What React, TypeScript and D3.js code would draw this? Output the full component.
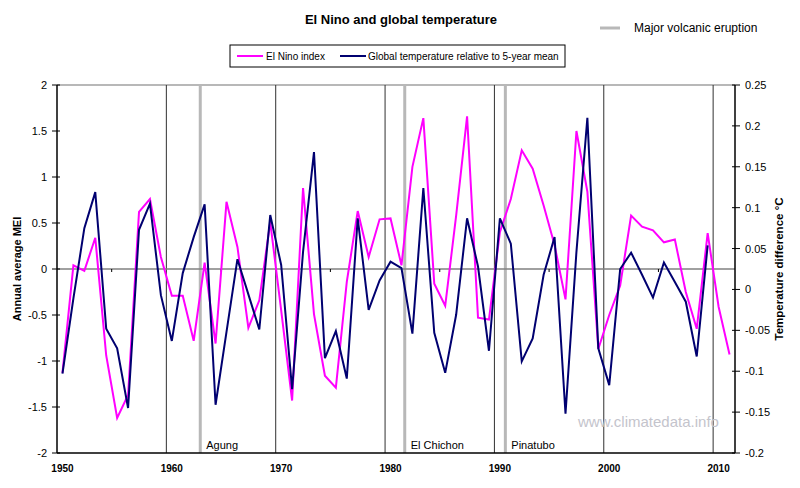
import React from "react";
import * as d3 from "d3";

const years: number[] = d3.range(1950, 2012);
const meiValues: number[] = [
  -1.13, 0.04, -0.02, 0.34, -0.94, -1.62, -1.37, 0.62, 0.76, 0.13,
  -0.29, -0.29, -0.78, 0.07, -0.81, 0.73, 0.24, -0.64, -0.34, 0.51,
  -0.45, -1.43, 0.88, -0.49, -1.16, -1.29, -0.14, 0.63, 0.13, 0.54,
  0.55, 0.04, 1.11, 1.64, -0.16, -0.4, 0.58, 1.66, -0.53, -0.55,
  0.4, 0.76, 1.29, 1.09, 0.69, 0.26, -0.33, 1.5, 0.84, -0.87,
  -0.5, -0.18, 0.58, 0.46, 0.42, 0.29, 0.32, -0.25, -0.65, 0.39,
  -0.41, -0.93,
];
const tempValues: number[] = [
  -0.103, -0.011, 0.075, 0.119, -0.048, -0.072, -0.145, 0.073, 0.105, -0.007,
  -0.063, 0.02, 0.064, 0.104, -0.141, -0.052, 0.037, -0.006, -0.049, 0.091,
  0.03, -0.122, 0.046, 0.168, -0.084, -0.051, -0.109, 0.087, -0.025, 0.011,
  0.034, 0.026, -0.054, 0.124, -0.053, -0.102, -0.031, 0.087, 0.028, -0.075,
  0.087, 0.056, -0.088, -0.06, 0.018, 0.064, -0.152, 0.046, 0.21, -0.072,
  -0.117, 0.025, 0.045, 0.018, -0.01, 0.033, 0.009, -0.015, -0.082, 0.054,
];
const volcanoNames: string[] = ["Agung", "El Chichon", "Pinatubo"];
const volcanoYears: number[] = [1963.1, 1981.8, 1991.0];
const decadeYears: number[] = [1950, 1960, 1970, 1980, 1990, 2000, 2010];
const halfDecadeYears: number[] = [1955, 1965, 1975, 1985, 1995, 2005];
const leftTicks: number[] = [2, 1.5, 1, 0.5, 0, -0.5, -1, -1.5, -2];
const rightTicks: number[] = [0.25, 0.2, 0.15, 0.1, 0.05, 0, -0.05, -0.1, -0.15, -0.2];

const FONT = "'Liberation Sans', Arial, sans-serif";
const PINK = "#ff00ff";
const NAVY = "#000070";

export default function App() {
  const L = 57, R = 735, T = 85, B = 453;
  const x = d3.scaleLinear().domain([1950, 2012]).range([L, R]);
  const yL = d3.scaleLinear().domain([-2, 2]).range([B, T]);
  const yR = d3.scaleLinear().domain([-0.2, 0.25]).range([B, T]);

  const meiLine = d3
    .line<number>()
    .x((_, i) => x(years[i] + 0.5))
    .y((d) => yL(d));
  const tempLine = d3
    .line<number>()
    .x((_, i) => x(years[i] + 0.5))
    .y((d) => yR(d));

  return (
    <svg
      width={800}
      height={488}
      style={{ position: "absolute", left: 0, top: 0, background: "#fff" }}
      fontFamily={FONT}
    >
      <rect x={0} y={0} width={800} height={488} fill="#fff" />
      {/* title */}
      <text x={401} y={24} textAnchor="middle" fontSize={13} fontWeight="bold" fill="#000">
        El Nino and global temperature
      </text>
      {/* volcano legend */}
      <line x1={600} x2={620} y1={28} y2={28} stroke="#b8b8b8" strokeWidth={3} />
      <text x={634} y={32} fontSize={12} fill="#000">Major volcanic eruption</text>
      {/* legend box */}
      <rect x={230} y={45} width={335} height={22} fill="#fff" stroke="#000" strokeWidth={1} />
      <line x1={237} x2={263} y1={56} y2={56} stroke={PINK} strokeWidth={2} />
      <text x={266} y={60} fontSize={10} fill="#000">El Nino index</text>
      <line x1={340} x2={366} y1={56} y2={56} stroke={NAVY} strokeWidth={2} />
      <text x={368} y={60} fontSize={10} fill="#000">Global temperature relative to 5-year mean</text>

      {/* plot frame */}
      <line x1={L} x2={R} y1={T} y2={T} stroke="#a0a0a0" strokeWidth={1.5} />
      {decadeYears.slice(1).map((yr) => (
        <line key={"d" + yr} x1={x(yr)} x2={x(yr)} y1={T} y2={B} stroke="#303030" strokeWidth={1} />
      ))}
      {volcanoYears.map((yr, i) => (
        <g key={"v" + i}>
          <line x1={x(yr)} x2={x(yr)} y1={T} y2={B} stroke="#b8b8b8" strokeWidth={3} />
          <text x={x(yr) + 6} y={449} fontSize={11} fill="#000">{volcanoNames[i]}</text>
        </g>
      ))}
      <line x1={L} x2={R} y1={yL(0)} y2={yL(0)} stroke="#808080" strokeWidth={1.5} />
      {halfDecadeYears.map((yr) => (
        <line key={"h" + yr} x1={x(yr)} x2={x(yr)} y1={yL(0)} y2={yL(0) + 3} stroke="#000" strokeWidth={1} />
      ))}
      <line x1={L} x2={R} y1={B} y2={B} stroke="#000" strokeWidth={1.5} />
      <line x1={L} x2={L} y1={T} y2={B} stroke="#000" strokeWidth={1.5} />
      <line x1={R} x2={R} y1={T} y2={B} stroke="#000" strokeWidth={1.5} />

      {/* watermark */}
      <text x={578} y={427} fontSize={15} fill="#c4c4cc">www.climatedata.info</text>

      {/* series */}
      <path d={meiLine(meiValues) || ""} fill="none" stroke={PINK} strokeWidth={2} strokeLinejoin="miter" />
      <path d={tempLine(tempValues) || ""} fill="none" stroke={NAVY} strokeWidth={2} strokeLinejoin="miter" />

      {/* left axis */}
      {leftTicks.map((v) => (
        <g key={"l" + v}>
          <line x1={L - 5} x2={L + 3} y1={yL(v)} y2={yL(v)} stroke="#000" strokeWidth={1} />
          <text x={47} y={yL(v) + 4} textAnchor="end" fontSize={11} fill="#000">{v}</text>
        </g>
      ))}
      {/* right axis */}
      {rightTicks.map((v) => (
        <g key={"r" + v}>
          <line x1={R - 3} x2={R + 5} y1={yR(v)} y2={yR(v)} stroke="#000" strokeWidth={1} />
          <text x={745} y={yR(v) + 4} fontSize={11} fill="#000">{v}</text>
        </g>
      ))}
      {/* x labels */}
      {decadeYears.map((yr) => (
        <text key={"x" + yr} x={x(yr + 0.5)} y={472} textAnchor="middle" fontSize={10} fontWeight="bold" fill="#000">
          {yr}
        </text>
      ))}
      {/* axis titles */}
      <text
        transform={`translate(21, ${(T + B) / 2}) rotate(-90)`}
        textAnchor="middle"
        fontSize={11}
        fontWeight="bold"
        fill="#000"
      >
        Annual average MEI
      </text>
      <text
        transform={`translate(783, ${(T + B) / 2}) rotate(-90)`}
        textAnchor="middle"
        fontSize={11.5}
        fontWeight="bold"
        fill="#000"
      >
        Temperature difference °C
      </text>
    </svg>
  );
}
